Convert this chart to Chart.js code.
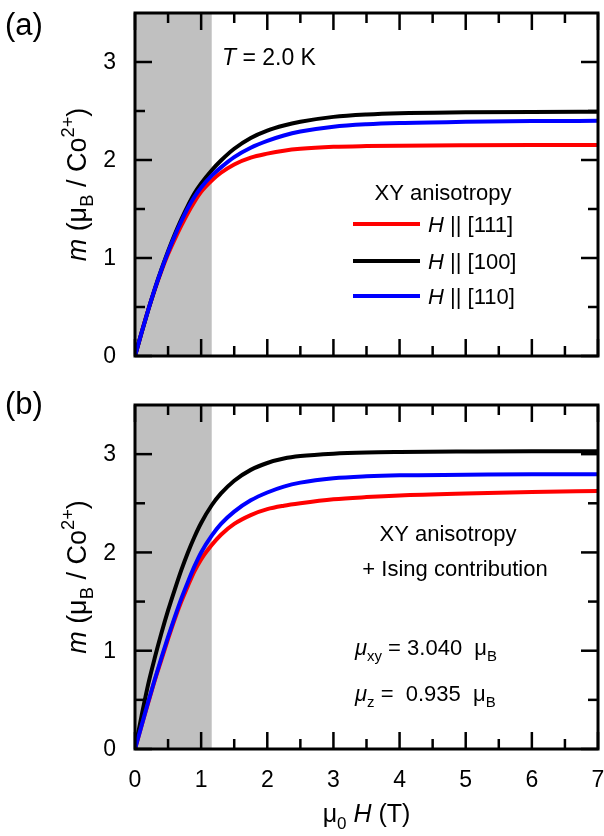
<!DOCTYPE html>
<html>
<head>
<meta charset="utf-8">
<script src="https://cdn.jsdelivr.net/npm/chart.js@4.4.0/dist/chart.umd.min.js"></script>
<style>
  html, body { margin: 0; padding: 0; background: #fff; }
  #wrap { position: relative; width: 604px; height: 836px; overflow: hidden; }
  canvas { position: absolute; left: 0; }
</style>
</head>
<body>
<div id="wrap">
  <canvas id="cA" width="604" height="380" style="top:0;width:604px;height:380px"></canvas>
  <canvas id="cB" width="604" height="456" style="top:380px;width:604px;height:456px"></canvas>
</div>
<script>
// ---------------- data ----------------
const fieldT = [0, 0.1, 0.2, 0.3, 0.4, 0.5, 0.6, 0.7, 0.8, 0.9, 1.0, 1.16, 1.3, 1.5, 1.75, 2.0, 2.25, 2.5, 3.0, 3.5, 4.0, 5.0, 6.0, 7.0];

// panel (a): XY anisotropy
const a111 = [0, 0.24, 0.47, 0.68, 0.87, 1.04, 1.19, 1.33, 1.46, 1.575, 1.675, 1.79, 1.87, 1.955, 2.025, 2.065, 2.095, 2.114, 2.134, 2.142, 2.146, 2.15, 2.152, 2.153];
const a100 = [0, 0.24, 0.47, 0.685, 0.885, 1.07, 1.24, 1.395, 1.535, 1.66, 1.76, 1.895, 1.995, 2.115, 2.225, 2.30, 2.352, 2.39, 2.44, 2.465, 2.478, 2.486, 2.49, 2.492];
const a110 = [0, 0.24, 0.47, 0.685, 0.88, 1.06, 1.225, 1.375, 1.51, 1.625, 1.72, 1.84, 1.925, 2.03, 2.125, 2.195, 2.25, 2.29, 2.34, 2.365, 2.378, 2.39, 2.397, 2.40];

// panel (b): XY anisotropy + Ising contribution
const b111 = [0, 0.24, 0.47, 0.70, 0.91, 1.12, 1.32, 1.50, 1.66, 1.81, 1.93, 2.075, 2.18, 2.29, 2.38, 2.44, 2.475, 2.50, 2.54, 2.563, 2.58, 2.60, 2.615, 2.625];
const b100 = [0, 0.34, 0.66, 0.93, 1.18, 1.41, 1.62, 1.82, 2.0, 2.16, 2.30, 2.48, 2.60, 2.73, 2.84, 2.91, 2.955, 2.98, 3.005, 3.017, 3.022, 3.027, 3.03, 3.03];
const b110 = [0, 0.24, 0.48, 0.71, 0.93, 1.14, 1.34, 1.53, 1.70, 1.86, 2.0, 2.17, 2.29, 2.415, 2.53, 2.61, 2.67, 2.71, 2.755, 2.775, 2.785, 2.79, 2.795, 2.795];

const seriesNames = ['[111]', '[100]', '[110]'];
const seriesColors = ['#ff0000', '#000000', '#0000ff'];

const xRange = [0, 7];
const yRange = [0, 3.5];
const xTickValues = [0, 1, 2, 3, 4, 5, 6, 7];
const yTickValues = [0, 1, 2, 3];
const xMinorValues = [0.5, 1.5, 2.5, 3.5, 4.5, 5.5, 6.5];
const yMinorValues = [0.5, 1.5, 2.5];
const shadeRange = [0, 1.16];

// ---------------- helpers ----------------
const FONT = '"Liberation Sans", Arial, Helvetica, sans-serif';

function pts(ys) { return fieldT.map((t, i) => ({ x: t, y: ys[i] })); }

function richWidth(ctx, parts, size) {
  let w = 0;
  for (const p of parts) {
    const s = (p.sub || p.sup) ? size * 0.68 : size;
    ctx.font = (p.italic ? 'italic ' : '') + s + 'px ' + FONT;
    w += ctx.measureText(p.t).width;
  }
  return w;
}
function drawRich(ctx, parts, x, y, size, align) {
  const w = richWidth(ctx, parts, size);
  let cx = align === 'center' ? x - w / 2 : (align === 'right' ? x - w : x);
  ctx.textBaseline = 'alphabetic';
  ctx.textAlign = 'left';
  const base = y + size * 0.36;
  for (const p of parts) {
    const s = (p.sub || p.sup) ? size * 0.68 : size;
    ctx.font = (p.italic ? 'italic ' : '') + s + 'px ' + FONT;
    let yy = base;
    if (p.sub) yy += size * 0.28;
    if (p.sup) yy -= size * 0.42;
    ctx.fillText(p.t, cx, yy);
    cx += ctx.measureText(p.t).width;
  }
}

const yTitleParts = [{ t: 'm', italic: true }, { t: ' (μ' }, { t: 'B', sub: true }, { t: ' / Co' }, { t: '2+', sup: true }, { t: ')' }];

const framePlugin = {
  id: 'frame',
  beforeDatasetsDraw(chart) {
    const { ctx, chartArea: a, scales: { x } } = chart;
    ctx.save();
    ctx.fillStyle = '#c0c0c0';
    const x0 = x.getPixelForValue(shadeRange[0]), x1 = x.getPixelForValue(shadeRange[1]);
    ctx.fillRect(x0, a.top, x1 - x0, a.bottom - a.top);
    ctx.restore();
  },
  afterDatasetsDraw(chart) {
    const { ctx, chartArea: a, scales: { x, y } } = chart;
    ctx.save();
    ctx.strokeStyle = '#000';
    ctx.lineWidth = 2.5;
    ctx.lineCap = 'butt';
    const tick = (x1, y1, x2, y2) => { ctx.beginPath(); ctx.moveTo(x1, y1); ctx.lineTo(x2, y2); ctx.stroke(); };
    const MAJ = 17, MIN = 10;
    xTickValues.forEach(v => { const p = x.getPixelForValue(v); tick(p, a.bottom, p, a.bottom - MAJ); tick(p, a.top, p, a.top + MAJ); });
    xMinorValues.forEach(v => { const p = x.getPixelForValue(v); tick(p, a.bottom, p, a.bottom - MIN); tick(p, a.top, p, a.top + MIN); });
    yTickValues.forEach(v => { const p = y.getPixelForValue(v); tick(a.left, p, a.left + MAJ, p); tick(a.right, p, a.right - MAJ, p); });
    yMinorValues.forEach(v => { const p = y.getPixelForValue(v); tick(a.left, p, a.left + MIN, p); tick(a.right, p, a.right - MIN, p); });
    ctx.lineWidth = 3;
    ctx.strokeRect(a.left, a.top, a.right - a.left, a.bottom - a.top);
    ctx.restore();
  },
  afterDraw(chart, args, opts) {
    const { ctx, chartArea: a, scales: { x, y } } = chart;
    ctx.save();
    ctx.fillStyle = '#000';
    // tick labels (through the library's scales)
    ctx.font = '23px ' + FONT;
    ctx.textBaseline = 'middle';
    ctx.textAlign = 'right';
    yTickValues.forEach(v => ctx.fillText(String(v), a.left - 19, y.getPixelForValue(v) + 1));
    if (opts.xLabels) {
      ctx.textAlign = 'center';
      xTickValues.forEach(v => ctx.fillText(String(v), x.getPixelForValue(v), a.bottom + 32));
    }
    // y axis title
    ctx.save();
    ctx.translate(76, (a.top + a.bottom) / 2);
    ctx.rotate(-Math.PI / 2);
    drawRich(ctx, yTitleParts, 0, 0, 27, 'center');
    ctx.restore();
    // panel label
    ctx.font = '31px ' + FONT;
    ctx.textBaseline = 'middle';
    ctx.textAlign = 'left';
    ctx.fillText(opts.panel, 5, opts.panelY);
    if (opts.draw) opts.draw(chart, ctx);
    ctx.restore();
  }
};

function makeDatasets(ys) {
  return ys.map((arr, i) => ({
    label: 'H || ' + seriesNames[i],
    data: pts(arr),
    borderColor: seriesColors[i],
    backgroundColor: seriesColors[i],
    borderWidth: 4,
    pointRadius: 0,
    showLine: true,
    fill: false,
    cubicInterpolationMode: 'monotone',
    order: 3 - i
  }));
}

function makeOptions(xHeight, topPad, extra) {
  return {
    responsive: false,
    animation: false,
    devicePixelRatio: 1,
    layout: { padding: { top: topPad, right: 6, left: 0, bottom: 0 } },
    plugins: { legend: { display: false }, tooltip: { enabled: false }, frame: extra },
    scales: {
      x: {
        type: 'linear', min: xRange[0], max: xRange[1],
        grid: { display: false, drawTicks: false },
        border: { display: false },
        afterBuildTicks: s => { s.ticks = xTickValues.map(v => ({ value: v })); },
        afterFit: s => { s.height = xHeight; },
        ticks: { display: false }
      },
      y: {
        type: 'linear', min: yRange[0], max: yRange[1],
        grid: { display: false, drawTicks: false },
        border: { display: false },
        afterBuildTicks: s => { s.ticks = yTickValues.map(v => ({ value: v })); },
        afterFit: s => { s.width = 135; },
        ticks: { display: false }
      }
    }
  };
}

// ---------------- panel (a) ----------------
new Chart(document.getElementById('cA'), {
  type: 'scatter',
  data: { datasets: makeDatasets([a111, a100, a110]) },
  options: makeOptions(24, 13, {
    panel: '(a)', panelY: 26, xLabels: false,
    draw(chart, ctx) {
      drawRich(ctx, [{ t: 'T', italic: true }, { t: ' = 2.0 K' }], 222, 57, 23, 'left');
      drawRich(ctx, [{ t: 'XY anisotropy' }], 443, 192, 22, 'center');
      const rows = [224, 261, 296];
      chart.data.datasets.forEach((ds, i) => {
        ctx.save();
        ctx.strokeStyle = ds.borderColor;
        ctx.lineWidth = 4;
        ctx.beginPath(); ctx.moveTo(353, rows[i]); ctx.lineTo(420, rows[i]); ctx.stroke();
        ctx.restore();
        drawRich(ctx, [{ t: 'H', italic: true }, { t: ' || ' + seriesNames[i] }], 428, rows[i], 22, 'left');
      });
    }
  }),
  plugins: [framePlugin]
});

// ---------------- panel (b) ----------------
new Chart(document.getElementById('cB'), {
  type: 'scatter',
  data: { datasets: makeDatasets([b111, b100, b110]) },
  options: makeOptions(87, 25, {
    panel: '(b)', panelY: 25, xLabels: true,
    draw(chart, ctx) {
      drawRich(ctx, [{ t: 'XY anisotropy' }], 448, 153, 22, 'center');
      drawRich(ctx, [{ t: '+ Ising contribution' }], 455, 188, 22, 'center');
      drawRich(ctx, [{ t: 'μ', italic: true }, { t: 'xy', sub: true }, { t: ' = 3.040  μ' }, { t: 'B', sub: true }], 355, 267, 22, 'left');
      drawRich(ctx, [{ t: 'μ', italic: true }, { t: 'z', sub: true }, { t: ' =  0.935  μ' }, { t: 'B', sub: true }], 355, 313, 22, 'left');
      const a = chart.chartArea;
      drawRich(ctx, [{ t: 'μ' }, { t: '0', sub: true }, { t: ' ' }, { t: 'H', italic: true }, { t: ' (T)' }], (a.left + a.right) / 2, 433, 25, 'center');
    }
  }),
  plugins: [framePlugin]
});
</script>
</body>
</html>
